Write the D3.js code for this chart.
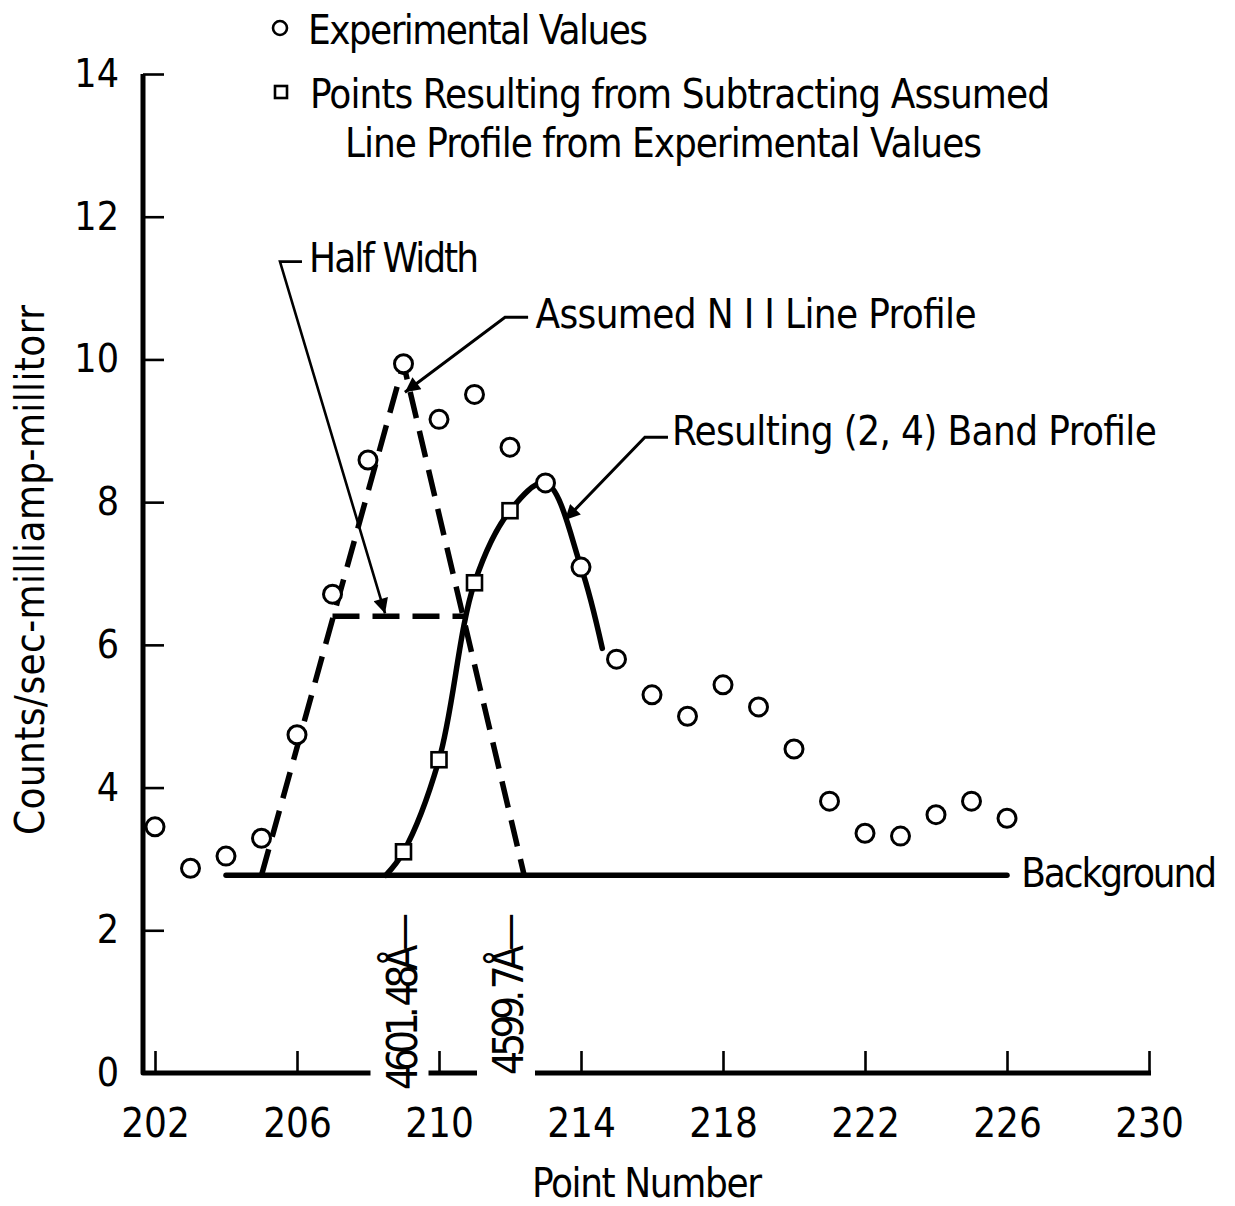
<!DOCTYPE html>
<html><head><meta charset="utf-8">
<script src="https://cdn.jsdelivr.net/npm/d3@7/dist/d3.min.js"></script>
<style>
body{margin:0;background:#fff}
text{font-family:"Liberation Sans Narrow","DejaVu Sans Condensed","Liberation Sans",sans-serif;fill:#000}
</style></head><body><svg id="c" width="1235" height="1206"></svg>
<script>
// ---------- data ----------
const pointNumbers = [202,203,204,205,206,207,208,209,210,211,212,213,214,215,216,217,218,219,220,221,222,223,224,225,226];
const experimentalValues = [3.45,2.87,3.04,3.29,4.74,6.71,8.59,9.94,9.16,9.51,8.77,8.27,7.09,5.80,5.30,5.00,5.44,5.13,4.54,3.81,3.36,3.32,3.62,3.81,3.57];
const subtractedPoints = [209,210,211,212];
const subtractedValues = [3.10,4.39,6.87,7.88];
const xTicks = [202,206,210,214,218,222,226,230];
const yTicks = [0,2,4,6,8,10,12,14];
const backgroundLevel = 2.77;
const backgroundRange = [204,226];
const lineProfileX = [205,209,212.4];
const lineProfileY = [2.77,9.94,2.77];
const halfWidthX = [207.0,210.75];
const halfWidthLevel = 6.4;
const bandProfileX = [208.5,209,210,211,212,213,214,214.6];
const bandProfileY = [2.77,3.10,4.39,6.87,7.88,8.27,7.09,5.95];
const wavelengthLabels = ["4601. 48Å—","4599. 7Å—"];
const wavelengthPoints = [209,212];

// ---------- setup ----------
const svg = d3.select("#c");
const x = d3.scaleLinear().domain([202,230]).range([155,1149]);
const y = d3.scaleLinear().domain([0,14]).range([1073,74]);
const FONT = 40;

const defs = svg.append("defs");
defs.append("marker").attr("id","arr").attr("viewBox","0 0 10 10")
  .attr("refX",10).attr("refY",5).attr("markerWidth",26).attr("markerHeight",15)
  .attr("markerUnits","userSpaceOnUse").attr("orient","auto")
  .append("path").attr("d","M0,0 L10,5 L0,10 Z").attr("fill","#000");

// ---------- axes ----------
const yAxis = svg.append("g").attr("transform","translate(143,0)")
  .call(d3.axisLeft(y).tickValues(yTicks).tickSizeInner(-21).tickSizeOuter(0).tickPadding(24));
yAxis.select(".domain").remove();
yAxis.selectAll(".tick line").attr("stroke","#000").attr("stroke-width",2.6);
yAxis.selectAll(".tick text").attr("font-size",39).attr("font-family",null);

const xAxis = svg.append("g").attr("transform","translate(0,1073)")
  .call(d3.axisBottom(x).tickValues(xTicks).tickSizeInner(-22).tickSizeOuter(0).tickPadding(36));
xAxis.select(".domain").remove();
xAxis.selectAll(".tick line").attr("stroke","#000").attr("stroke-width",2.6);
xAxis.selectAll(".tick text").attr("font-size",40).attr("font-family",null);

svg.append("path").attr("d",`M143,${y(14)} L143,${y(0)} L${x(230)+2},${y(0)}`)
  .attr("fill","none").attr("stroke","#000").attr("stroke-width",5).attr("stroke-linejoin","round");

// wavelength labels (rotated) with gaps in axis
wavelengthLabels.forEach((t,i)=>{
  const g = svg.append("g").attr("transform",`translate(${x(wavelengthPoints[i])+13},913) rotate(-90)`);
  const tx = g.append("text").attr("text-anchor","end").attr("font-size",42).text(t)
    .attr("textLength", i===0?177:162);
  const b = tx.node().getBBox();
  g.insert("rect","text").attr("x",b.x-4).attr("y",b.y-6).attr("width",b.width+8).attr("height",b.height+8).attr("fill","#fff");
});

// axis titles
svg.append("text").attr("x",647).attr("y",1197).attr("text-anchor","middle").attr("font-size",FONT)
  .attr("textLength",230).text("Point Number");
svg.append("text").attr("transform","translate(44,570) rotate(-90)").attr("text-anchor","middle").attr("font-size",FONT)
  .attr("textLength",530).text("Counts/sec-milliamp-millitorr");

// ---------- background line ----------
svg.append("line").attr("x1",x(backgroundRange[0])).attr("x2",x(backgroundRange[1]))
  .attr("y1",y(backgroundLevel)).attr("y2",y(backgroundLevel))
  .attr("stroke","#000").attr("stroke-width",5.5).attr("stroke-linecap","round");

// ---------- assumed line profile (dashed) ----------
const lin = d3.line().x(d=>x(d[0])).y(d=>y(d[1]));
svg.append("path").attr("d",lin(lineProfileX.map((v,i)=>[v,lineProfileY[i]])))
  .attr("fill","none").attr("stroke","#000").attr("stroke-width",5.5).attr("stroke-dasharray","27,13").attr("stroke-linejoin","round");
svg.append("path").attr("d",lin(halfWidthX.map(v=>[v,halfWidthLevel])))
  .attr("fill","none").attr("stroke","#000").attr("stroke-width",5.5).attr("stroke-dasharray","27,13");

// ---------- band profile ----------
svg.append("path").attr("d",d3.line().x(d=>x(d[0])).y(d=>y(d[1])).curve(d3.curveCatmullRom.alpha(0.5))(bandProfileX.map((v,i)=>[v,bandProfileY[i]])))
  .attr("fill","none").attr("stroke","#000").attr("stroke-width",5.5).attr("stroke-linecap","round");

// ---------- annotations ----------
const leader = (pts,w)=> svg.append("path").attr("d",lin(pts)).attr("fill","none").attr("stroke","#000")
  .attr("stroke-width",w).attr("marker-end","url(#arr)");
leader([[206.14,11.37],[205.52,11.37],[208.48,6.44]],2.6);
leader([[212.51,10.59],[211.86,10.59],[209.04,9.54]],3);
leader([[216.45,8.91],[215.80,8.91],[213.55,7.75]],3);

const label = (t,xv,yv,len)=> svg.append("text").attr("x",x(xv)).attr("y",y(yv)).attr("font-size",FONT).attr("textLength",len).text(t);
label("Half Width",206.34,11.23,170);
label("Assumed N I I Line Profile",212.72,10.44,441);
label("Resulting (2,  4) Band Profile",216.56,8.8,485);
label("Background",226.4,2.6,196);

// ---------- points ----------
svg.append("g").selectAll("circle").data(pointNumbers).join("circle")
  .attr("cx",d=>x(d)).attr("cy",(d,i)=>y(experimentalValues[i])).attr("r",9)
  .attr("fill","#fff").attr("stroke","#000").attr("stroke-width",3);
svg.append("g").selectAll("rect").data(subtractedPoints).join("rect")
  .attr("x",d=>x(d)-7.5).attr("y",(d,i)=>y(subtractedValues[i])-7.5).attr("width",15).attr("height",15)
  .attr("fill","#fff").attr("stroke","#000").attr("stroke-width",2.6);

// ---------- legend ----------
svg.append("circle").attr("cx",280).attr("cy",28).attr("r",7).attr("fill","#fff").attr("stroke","#000").attr("stroke-width",2.6);
svg.append("rect").attr("x",275).attr("y",86).attr("width",12).attr("height",12).attr("fill","#fff").attr("stroke","#000").attr("stroke-width",2.6);
svg.append("text").attr("x",308).attr("y",44).attr("font-size",FONT).attr("textLength",340).text("Experimental Values");
svg.append("text").attr("x",310).attr("y",108).attr("font-size",FONT).attr("textLength",740).text("Points Resulting from Subtracting Assumed");
svg.append("text").attr("x",345).attr("y",157).attr("font-size",FONT).attr("textLength",637).text("Line Profile from Experimental Values");
</script></body></html>
